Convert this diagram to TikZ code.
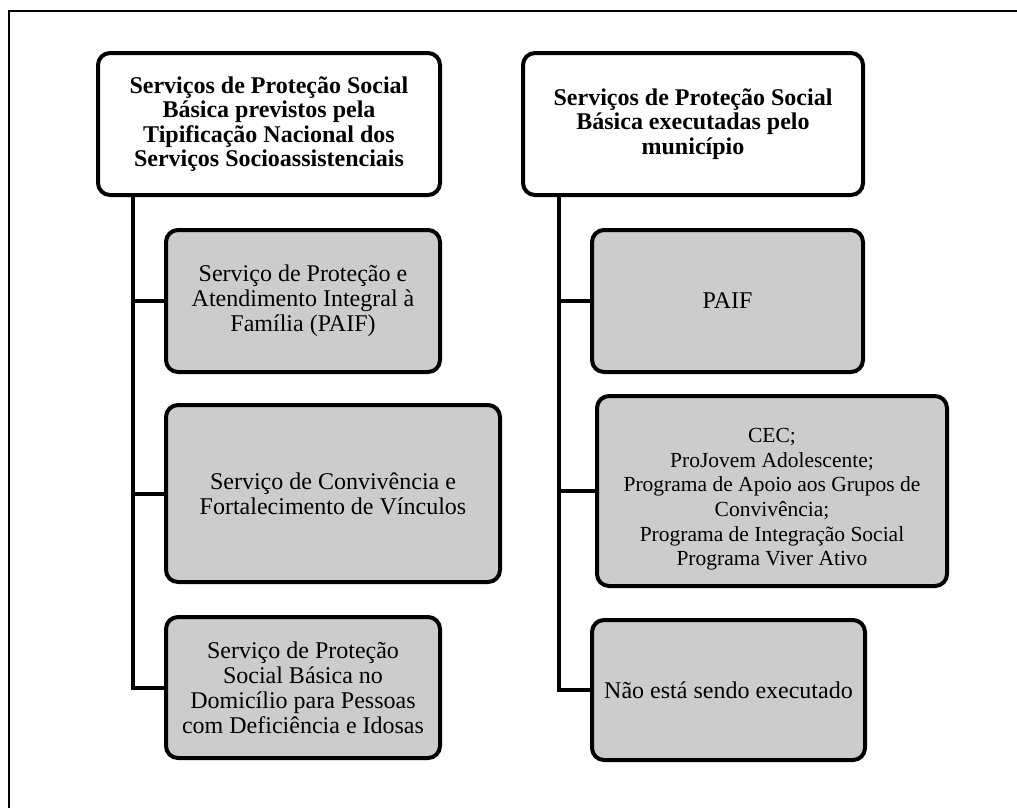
\documentclass[tikz,border=0pt]{standalone}
\usepackage{fontspec}
\setmainfont{Liberation Serif}
\begin{document}
\begin{tikzpicture}[x=1pt,y=-1pt,
  headbox/.style={draw=black,line width=4pt,rounded corners=12pt,fill=white,align=center,inner sep=0pt,
    font=\fontsize{24}{24.5}\selectfont\bfseries},
  childbox/.style={draw=black,line width=4pt,rounded corners=12pt,fill=boxgray,align=center,inner sep=0pt,
    font=\fontsize{24}{25}\selectfont},
  link/.style={line width=4pt}]
\definecolor{boxgray}{HTML}{CCCCCC}
\useasboundingbox (0,0) rectangle (1017,807);
\clip (0,0) rectangle (1017,807);
\draw[line width=2.5pt] (9,11) rectangle (1040,830);

\node[headbox,minimum width=342pt,minimum height=142pt] (Lh) at (269,124)
  {Serviços de Proteção Social\\Básica previstos pela\\Tipificação Nacional dos\\Serviços Socioassistenciais};
\node[headbox,minimum width=340pt,minimum height=142pt] (Rh) at (693,124)
  {Serviços de Proteção Social\\Básica executadas pelo\\município};

\node[childbox,minimum width=274pt,minimum height=142pt] (L1) at (303,301)
  {Serviço de Proteção e\\Atendimento Integral à\\Família (PAIF)};
\node[childbox,minimum width=334pt,minimum height=177pt] (L2) at (333,493.5)
  {Serviço de Convivência e\\Fortalecimento de Vínculos};
\node[childbox,minimum width=274pt,minimum height=141pt] (L3) at (303,687.5)
  {Serviço de Proteção\\Social Básica no\\Domicílio para Pessoas\\com Deficiência e Idosas};

\node[childbox,minimum width=271pt,minimum height=142pt] (R1) at (727.5,301) {PAIF};
\node[childbox,minimum width=350pt,minimum height=190pt,font=\fontsize{21.5}{24.6}\selectfont] (R2) at (772,491)
  {\rule{0pt}{31pt}CEC;\\ProJovem Adolescente;\\Programa de Apoio aos Grupos de\\Convivência;\\Programa de Integração Social\\Programa Viver Ativo};
\node[childbox,minimum width=273pt,minimum height=140pt] (R3) at (728.5,690) {Não está sendo executado};

\coordinate (tL) at (133,0);
\coordinate (tR) at (559,0);
\draw[link] (tL |- Lh.south) -- (tL |- L3.west) -- (L3.west);
\draw[link] (tL |- L1.west) -- (L1.west);
\draw[link] (tL |- L2.west) -- (L2.west);
\draw[link] (tR |- Rh.south) -- (tR |- R3.west) -- (R3.west);
\draw[link] (tR |- R1.west) -- (R1.west);
\draw[link] (tR |- R2.west) -- (R2.west);
\end{tikzpicture}
\end{document}
